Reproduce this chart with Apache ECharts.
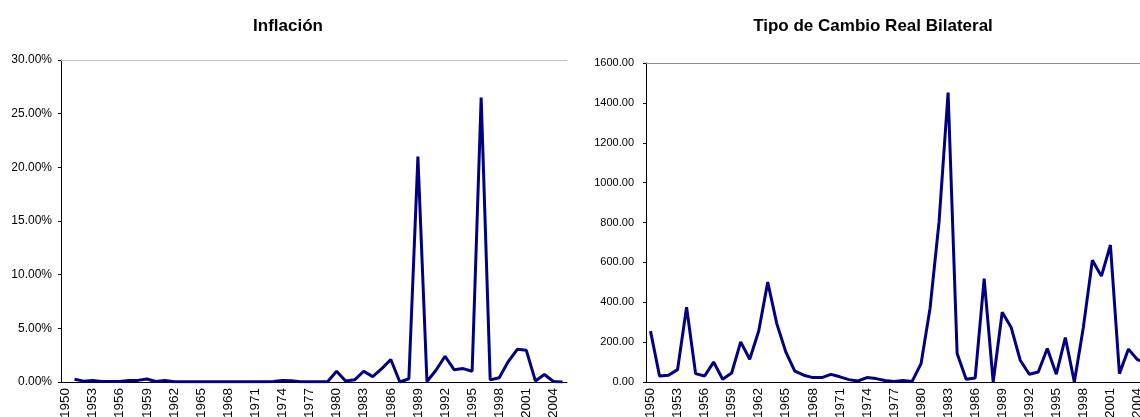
<!DOCTYPE html>
<html>
<head>
<meta charset="utf-8">
<script src="https://cdn.jsdelivr.net/npm/echarts@6/dist/echarts.min.js"></script>
<style>
  html, body { margin: 0; padding: 0; background: #fff; }
  #main { width: 1140px; height: 417px; }
</style>
</head>
<body>
<div id="main"></div>
<script>
// años 1950 - 2005
var years = [];
for (var y = 1950; y <= 2005; y++) years.push(String(y));

// Inflación (%)
var inflacion = [
  null, 0.25, 0.08, 0.15, 0.05, 0.05, 0.05, 0.15, 0.15, 0.28,
  0.05, 0.15, 0.03, 0.02, 0.02, 0.02, 0.02, 0.02, 0.02, 0.02,
  0.02, 0.02, 0.02, 0.05, 0.15, 0.12, 0.03, 0.02, 0.02, 0.02,
  1.0, 0.1, 0.2, 1.0, 0.5, 1.25, 2.1, 0.0, 0.3, 21.0,
  0.05, 1.1, 2.4, 1.15, 1.25, 1.0, 26.5, 0.2, 0.4, 1.9,
  3.05, 2.95, 0.1, 0.7, 0.05, 0.0
];

// Tipo de Cambio Real Bilateral
var tcrb = [
  255, 30, 34, 62, 375, 42, 30, 100, 14, 45,
  201, 114, 256, 501, 293, 151, 55, 34, 22, 22,
  38, 26, 12, 5, 22, 17, 8, 2, 7, 2,
  92, 370, 804, 1452, 143, 14, 20, 518, 0, 350,
  273, 109, 39, 50, 168, 39, 223, 0, 275, 611,
  531, 687, 42, 165, 112, 95
];

var chart = echarts.init(document.getElementById('main'));

var fuente = 'Liberation Sans, Arial, sans-serif';

function ejeX(grid) {
  return {
    type: 'category',
    gridIndex: grid,
    data: years,
    axisLine: { lineStyle: { color: '#000', width: 1 } },
    axisTick: { interval: 0, length: 4, lineStyle: { color: '#000' } },
    axisLabel: {
      interval: 2, rotate: 90, color: '#000', fontSize: 13.5,
      fontFamily: fuente, margin: 6
    },
    splitLine: { show: false }
  };
}

// línea gris superior del área de trazado
function bordeSup(grid, color) {
  return {
    type: 'category',
    gridIndex: grid,
    position: 'top',
    data: years,
    axisLine: { lineStyle: { color: color, width: 1 } },
    axisTick: { show: false },
    axisLabel: { show: false }
  };
}

var option = {
  animation: false,
  title: [
    {
      text: 'Inflación', left: 283, top: 13, textAlign: 'center',
      textStyle: { fontSize: 17, fontWeight: 'bold', color: '#000', fontFamily: fuente }
    },
    {
      text: 'Tipo de Cambio Real Bilateral', left: 868, top: 13, textAlign: 'center',
      textStyle: { fontSize: 17, fontWeight: 'bold', color: '#000', fontFamily: fuente }
    }
  ],
  grid: [
    { left: 61, top: 60, width: 506, bottom: 35, outerBoundsMode: 'none' },
    { left: 646, top: 63, width: 505, bottom: 35, outerBoundsMode: 'none' }
  ],
  xAxis: [ejeX(0), ejeX(1), bordeSup(0, '#c0c0c0'), bordeSup(1, '#909090')],
  yAxis: [
    {
      type: 'value', gridIndex: 0, min: 0, max: 30, interval: 5,
      axisLine: { show: true, lineStyle: { color: '#000' } },
      axisTick: { show: true, length: 3, lineStyle: { color: '#000' } },
      axisLabel: {
        color: '#000', fontSize: 12, fontFamily: fuente, margin: 9,
        formatter: function (v) { return v.toFixed(2) + '%'; }
      },
      splitLine: { show: false }
    },
    {
      type: 'value', gridIndex: 1, min: 0, max: 1600, interval: 200,
      axisLine: { show: true, lineStyle: { color: '#000' } },
      axisTick: { show: true, length: 3, lineStyle: { color: '#000' } },
      axisLabel: {
        color: '#000', fontSize: 11, fontFamily: fuente, margin: 12,
        formatter: function (v) { return v.toFixed(2); }
      },
      splitLine: { show: false }
    }
  ],
  series: [
    {
      name: 'Inflación', type: 'line', xAxisIndex: 0, yAxisIndex: 0,
      data: inflacion, showSymbol: false, symbol: 'none',
      lineStyle: { color: '#000080', width: 3 }
    },
    {
      name: 'Tipo de Cambio Real Bilateral', type: 'line', xAxisIndex: 1, yAxisIndex: 1,
      data: tcrb, showSymbol: false, symbol: 'none',
      lineStyle: { color: '#000080', width: 3 }
    }
  ]
};

chart.setOption(option);
</script>
</body>
</html>
